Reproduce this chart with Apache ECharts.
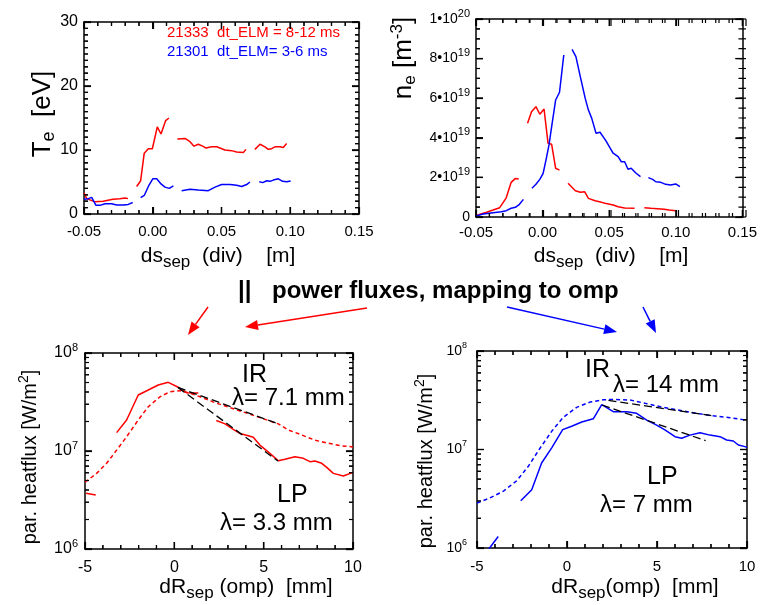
<!DOCTYPE html>
<html><head><meta charset="utf-8">
<script src="https://cdn.jsdelivr.net/npm/echarts@6/dist/echarts.min.js"></script>
<style>html,body{margin:0;padding:0;background:#fff}#c{width:760px;height:605px}</style>
</head><body><div id="c"></div>
<script>
// ---------------- data ----------------
// Panel 1: Te [eV] vs ds_sep [m]; each inner array is one unbroken segment
const teRed = [
  [[-0.05,3.3],[-0.048,2.4],[-0.042,1.9],[-0.036,2.0],[-0.029,2.3],[-0.024,2.4],[-0.020,2.5],[-0.018,2.4]],
  [[-0.0117,4.3],[-0.0088,5.2],[-0.0062,9.5],[-0.0032,10.2],[-0.0003,10.2],[0.0033,13.6],[0.006,12.5],[0.0094,14.6],[0.0118,15.0]],
  [[0.0179,11.7],[0.0235,11.8],[0.0271,11.3],[0.030,10.6],[0.0331,10.9],[0.0363,10.6],[0.0387,10.3],[0.0429,10.5],[0.0465,10.5],[0.0525,10.0],[0.0574,9.9],[0.061,9.7],[0.0659,9.6],[0.0678,10.1]],
  [[0.0743,10.1],[0.078,10.9],[0.0816,10.5],[0.084,10.1],[0.0865,10.2],[0.0889,10.5],[0.0925,10.5],[0.0949,10.4],[0.0974,11.0]]
];
const teBlue = [
  [[-0.05,2.3],[-0.0469,2.4],[-0.0444,2.6],[-0.0413,1.35],[-0.0384,1.35],[-0.0347,1.6],[-0.0299,1.6],[-0.0262,1.4],[-0.0214,1.4],[-0.0178,1.5],[-0.0146,1.8]],
  [[-0.0088,2.55],[-0.0062,2.9],[-0.0032,4.3],[0.0,5.5],[0.0029,5.5],[0.006,4.7],[0.0089,4.2],[0.012,4.0],[0.015,4.4]],
  [[0.021,3.65],[0.0271,3.85],[0.0331,3.75],[0.0404,3.65],[0.0453,4.2],[0.0501,4.6],[0.0562,4.6],[0.061,4.5],[0.0647,4.3],[0.0683,4.6],[0.0707,5.0]],
  [[0.0775,5.05],[0.080,4.9],[0.0829,5.2],[0.0853,5.1],[0.0877,5.3],[0.0913,5.5],[0.0945,5.1],[0.0974,5.05],[0.1003,5.15]]
];
// Panel 2: ne [1e19 m^-3] vs ds_sep [m]
const neRed = [
  [[-0.05,0.05],[-0.047,0.14],[-0.042,0.24],[-0.0372,0.35],[-0.0322,0.47],[-0.0273,0.97],[-0.0236,1.75],[-0.0204,1.95],[-0.0179,1.92]],
  [[-0.0113,4.73],[-0.0083,5.32],[-0.0050,5.57],[-0.0021,5.19],[0.0011,5.45],[0.0041,3.72],[0.0068,3.67],[0.0098,2.46],[0.0127,2.37]],
  [[0.0191,1.70],[0.0246,1.33],[0.0283,1.25],[0.0315,1.28],[0.0344,0.94],[0.0394,0.82],[0.0443,0.74],[0.0468,0.69],[0.053,0.61],[0.0567,0.52],[0.0616,0.45],[0.069,0.44]],
  [[0.0764,0.47],[0.0813,0.44],[0.0863,0.42],[0.0913,0.39],[0.0949,0.35],[0.0999,0.32]]
];
const neBlue = [
  [[-0.05,0.05],[-0.0446,0.15],[-0.0372,0.22],[-0.031,0.27],[-0.0273,0.32],[-0.0236,0.44],[-0.0204,0.49],[-0.0174,0.64],[-0.0144,0.89]],
  [[-0.008,1.45],[-0.0050,1.65],[-0.0021,1.90],[0.0004,2.2],[0.0028,2.96],[0.0048,3.64],[0.0068,4.56],[0.0098,5.91],[0.0127,6.30],[0.0159,8.18]],
  [[0.0221,8.47],[0.025,8.10],[0.0283,7.09],[0.032,5.99],[0.0344,5.40],[0.0369,4.98],[0.0401,4.23],[0.0431,4.28],[0.0463,3.97],[0.048,3.80],[0.0505,3.50],[0.053,3.22],[0.0567,3.05],[0.0591,2.79],[0.0616,2.79],[0.0641,2.41],[0.0665,2.46],[0.0702,2.21],[0.0735,2.04]],
  [[0.0794,1.99],[0.0826,1.90],[0.085,1.78],[0.0887,1.75],[0.0924,1.65],[0.0961,1.62],[0.0999,1.67],[0.1031,1.53]]
];
// Panel 3: parallel heat flux [W/m^2] vs dR_sep [mm], shot 21333
const lpRed = [
  [[-4.94,3.7e6],[-4.4,3.55e6]],
  [[-3.23,1.54e7],[-2.67,2.07e7],[-2.02,3.73e7],[-1.46,4.19e7],[-0.90,4.71e7],[-0.34,5.02e7],[0.22,4.47e7],[0.69,3.94e7],[1.34,3.9e7]],
  [[2.35,2.05e7],[2.84,1.89e7],[3.30,1.66e7],[3.67,1.51e7],[4.14,1.43e7],[4.42,1.38e7],[4.79,1.15e7],[5.35,9.46e6],[5.82,7.96e6],[6.19,8.22e6],[6.75,8.75e6],[7.22,8.42e6],[7.59,7.78e6],[7.87,7.9e6],[8.25,7.49e6],[8.53,6.81e6],[8.90,5.91e6],[9.46,5.56e6],[9.96,6.01e6]]
];
const irRed = [[-5,4.8e6],[-4.35,5.91e6],[-3.79,7.49e6],[-3.23,1.02e7],[-2.67,1.40e7],[-2.02,2.07e7],[-1.46,2.83e7],[-0.80,3.58e7],[-0.24,4.03e7],[0.32,4.13e7],[0.88,3.88e7],[1.44,3.58e7],[2.00,3.26e7],[2.28,3.11e7],[4.1,2.42e7],[5.82,1.89e7],[6.38,1.64e7],[7.12,1.46e7],[7.87,1.29e7],[8.62,1.20e7],[9.37,1.13e7],[10,1.1e7]];
const irFitRed = [[0.2,4.45e7],[5.8,1.9e7]];
const lpFitRed = [[0.2,4.45e7],[5.8,7.9e6]];
// Panel 4: parallel heat flux [W/m^2] vs dR_sep [mm], shot 21301
const lpBlue = [
  [[-4.45,9.2e5],[-3.82,1.31e6]],
  [[-2.57,3.02e6],[-1.96,3.91e6],[-1.41,7.29e6],[-0.85,1.04e7],[-0.24,1.59e7],[0.26,1.72e7],[0.82,1.90e7],[1.46,2.05e7],[1.93,2.85e7],[2.57,2.42e7],[3.32,2.42e7],[3.87,2.33e7],[4.43,1.99e7],[4.98,1.77e7],[5.44,1.58e7],[6.0,1.35e7],[6.37,1.30e7],[6.83,1.40e7],[7.39,1.48e7],[7.94,1.40e7],[8.5,1.35e7],[8.87,1.25e7],[9.24,1.22e7],[9.52,1.11e7],[9.89,1.07e7],[10,1.05e7]]
];
const irBlue = [[-5,2.86e6],[-4.28,3.22e6],[-3.54,3.77e6],[-2.79,4.82e6],[-2.15,6.75e6],[-1.5,1.03e7],[-0.85,1.53e7],[-0.21,2.12e7],[0.54,2.68e7],[1.28,3.03e7],[2.02,3.20e7],[2.6,3.22e7],[3.5,3.18e7],[5.35,2.68e7],[7.2,2.33e7],[8.13,2.20e7],[9.06,2.10e7],[10,1.98e7]];
const irFitBlue = [[2.3,3.15e7],[8.1,2.2e7]];
const lpFitBlue = [[1.95,2.83e7],[7.7,1.23e7]];
// tick values
const dsMajor = [-0.05,0,0.05,0.10,0.15];
const dsMinor = [-0.04,-0.03,-0.02,-0.01,0.01,0.02,0.03,0.04,0.06,0.07,0.08,0.09,0.11,0.12,0.13,0.14];
const teMajor = [0,10,20,30];
const teMinor = [1,2,3,4,5,6,7,8,9,11,12,13,14,15,16,17,18,19,21,22,23,24,25,26,27,28,29];
const neMajor = [0,2,4,6,8,10];
const neMinor = [0.5,1,1.5,2.5,3,3.5,4.5,5,5.5,6.5,7,7.5,8.5,9,9.5];
const drMajor = [-5,0,5,10];
const drMinor = [-4,-3,-2,-1,1,2,3,4,6,7,8,9];
const qMajor = [1e6,1e7,1e8];
const qMinor = [2e6,3e6,4e6,5e6,6e6,7e6,8e6,9e6,2e7,3e7,4e7,5e7,6e7,7e7,8e7,9e7];
// texts
const legendRed = '21333  dt_ELM = 8-12 ms';
const legendBlue = '21301  dt_ELM= 3-6 ms';

// ---------------- chart ----------------
const FONT = "'Liberation Sans', Arial, Helvetica, sans-serif";
const RED = '#ff0000', BLUE = '#0000ff';
const chart = echarts.init(document.getElementById('c'));

const grids = [
  {left:84, top:22, width:275, height:192},
  {left:476, top:19, width:270, height:198},
  {left:85, top:353, width:268, height:196},
  {left:477, top:351, width:270, height:197}
];
const ranges = [
  {x:[-0.05,0.15], y:[0,30], log:false},
  {x:[-0.05,0.15], y:[0,10], log:false},
  {x:[-5,10], y:[1e6,1e8], log:true},
  {x:[-5,10], y:[1e6,1e8], log:true}
];
function baseAxis(g, pos, showLabel, o) {
  return Object.assign({
    type:'value', gridIndex:g, position:pos,
    axisLine:{show:true, onZero:false, lineStyle:{color:'#000', width:1.5}},
    axisTick:{show:true, inside:true, length:7, lineStyle:{color:'#000', width:1.2}},
    minorTick:{show:false},
    splitLine:{show:false}, minorSplitLine:{show:false},
    axisLabel:{show:showLabel, color:'#000', fontFamily:FONT}
  }, o);
}
const fmt2 = v => v.toFixed(2);
const fmtInt = v => String(Math.round(v));
const fmtNe = v => { const r = Math.round(v); if (r === 0) return '0'; if (r >= 10) return '{a|1•10}{s|20}'; return '{a|' + r + '•10}{s|19}'; };
const fmtLog = v => '{a|10}{s|' + Math.round(Math.log10(v)) + '}';

const xAxes = [], yAxes = [];
[['bottom',true],['top',false]].forEach(([p,s]) => {
  const a = baseAxis(0,p,s,{min:-0.05,max:0.15,interval:0.05});
  Object.assign(a.axisLabel,{formatter:fmt2, fontSize:15, margin:10});
  xAxes.push(a);
});
[['left',true],['right',false]].forEach(([p,s]) => {
  const a = baseAxis(0,p,s,{min:0,max:30,interval:10});
  Object.assign(a.axisLabel,{formatter:fmtInt, fontSize:16, margin:6});
  yAxes.push(a);
});
[['bottom',true],['top',false]].forEach(([p,s]) => {
  const a = baseAxis(1,p,s,{min:-0.05,max:0.15,interval:0.05});
  Object.assign(a.axisLabel,{formatter:fmt2, fontSize:15, margin:8});
  xAxes.push(a);
});
[['left',true],['right',false]].forEach(([p,s]) => {
  const a = baseAxis(1,p,s,{min:0,max:10,interval:2});
  Object.assign(a.axisLabel,{formatter:fmtNe, fontSize:14, margin:6,
    rich:{a:{fontSize:14, fontFamily:FONT, color:'#000'}, s:{fontSize:11, fontFamily:FONT, color:'#000', padding:[0,0,11,0]}}});
  yAxes.push(a);
});
[2,3].forEach(g => {
  [['bottom',true],['top',false]].forEach(([p,s]) => {
    const a = baseAxis(g,p,s,{min:-5,max:10,interval:5});
    Object.assign(a.axisLabel,{formatter:fmtInt, fontSize:g===2?16:15, margin:11});
    xAxes.push(a);
  });
  [['left',true],['right',false]].forEach(([p,s]) => {
    const a = baseAxis(g,p,s,{type:'log', logBase:10, min:1e6, max:1e8});
    const fs = g===2?16:14;
    Object.assign(a.axisLabel,{formatter:fmtLog, fontSize:fs, margin:g===2?7:10,
      rich:{a:{fontSize:fs, fontFamily:FONT, color:'#000'}, s:{fontSize:fs-5, fontFamily:FONT, color:'#000', padding:[0,0,11,0]}}});
    yAxes.push(a);
  });
});

const series = [];
function addSegs(segs, p, color, type, width, noClip) {
  segs.forEach(seg => series.push({
    type:'line', xAxisIndex:2*p, yAxisIndex:2*p, data:seg,
    showSymbol:false, symbol:'none', silent:true, animation:false, clip:!noClip, z:3,
    lineStyle:{color:color, width:width||1.5, type:type||'solid'}
  }));
}
addSegs(teRed,0,RED); addSegs(teBlue,0,BLUE);
addSegs(neRed,1,RED); addSegs(neBlue,1,BLUE);
addSegs([irRed],2,RED,[4,3]); addSegs(lpRed,2,RED);
addSegs([irFitRed, lpFitRed],2,'#000',[8,4],1.3);
addSegs([irBlue],3,BLUE,[4,3]); addSegs(lpBlue,3,BLUE);
addSegs([irFitBlue, lpFitBlue],3,'#000',[8,4],1.3);

// tick marks on all four sides: each tick is a short two-point line in the panel's data space
const graphicTicks = [];
function ticks(p, xMaj, xMin, yMaj, yMin) {
  const r = ranges[p], g = grids[p];
  const [x0, x1] = r.x, [y0, y1] = r.y;
  const dx = len => len / g.width * (x1 - x0);
  const yUp = (y, len) => r.log ? y * Math.pow(10, len / g.height * Math.log10(y1 / y0)) : y + len / g.height * (y1 - y0);
  const yDown = (y, len) => r.log ? y / Math.pow(10, len / g.height * Math.log10(y1 / y0)) : y - len / g.height * (y1 - y0);
  const segs = [];
  const xs = (vals, len) => vals.forEach(v => {
    segs.push([[v, y0],[v, yUp(y0, len)]]);
    segs.push([[v, y1],[v, yDown(y1, len)]]);
    const px = g.left + (v - x0) / (x1 - x0) * g.width;
    graphicTicks.push({type:'line', silent:true, shape:{x1:px, y1:g.top+g.height, x2:px, y2:g.top+g.height-len}, style:{stroke:'#000', lineWidth:1.2}});
    graphicTicks.push({type:'line', silent:true, shape:{x1:px, y1:g.top, x2:px, y2:g.top+len}, style:{stroke:'#000', lineWidth:1.2}});
  });
  const ys = (vals, len) => vals.forEach(v => {
    segs.push([[x0, v],[x0 + dx(len), v]]);
    segs.push([[x1, v],[x1 - dx(len), v]]);
    const f = r.log ? Math.log10(v / y0) / Math.log10(y1 / y0) : (v - y0) / (y1 - y0);
    const py = g.top + g.height - f * g.height;
    graphicTicks.push({type:'line', silent:true, shape:{x1:g.left, y1:py, x2:g.left+len, y2:py}, style:{stroke:'#000', lineWidth:1.2}});
    graphicTicks.push({type:'line', silent:true, shape:{x1:g.left+g.width, y1:py, x2:g.left+g.width-len, y2:py}, style:{stroke:'#000', lineWidth:1.2}});
  });
  xs(xMaj, 7); xs(xMin, 4); ys(yMaj, 7); ys(yMin, 4);
  addSegs(segs, p, '#000', 'solid', 1.2, true);
}
ticks(0, dsMajor, dsMinor, teMajor, teMinor);
ticks(1, dsMajor, dsMinor, neMajor, neMinor);
ticks(2, drMajor, drMinor, qMajor, qMinor);
ticks(3, drMajor, drMinor, qMajor, qMinor);

function txt(x, y, text, size, fill, bold) {
  return {type:'text', x:x, y:y, silent:true, style:{
    text:text, fontSize:size, fontFamily:FONT, fill:fill||'#000', fontWeight:bold?'bold':'normal', align:'left', verticalAlign:'middle'}};
}
function richT(x, y, text, size, sub, rotate, subPad) {
  const rich = {
    m:{fontSize:size, fontFamily:FONT, fill:'#000'},
    s:{fontSize:sub, fontFamily:FONT, fill:'#000', padding:[subPad,0,0,0]},
    p:{fontSize:sub, fontFamily:FONT, fill:'#000', padding:[0,0,subPad,0]}
  };
  return {type:'text', x:x, y:y, rotation: rotate ? Math.PI/2 : 0, silent:true,
    style:{text:text, fontSize:size, fontFamily:FONT, fill:'#000', align:'center', verticalAlign:'middle', rich:rich}};
}
function arrow(x1, y1, x2, y2, color) {
  const ang = Math.atan2(y2-y1, x2-x1), L = 13, W = 5;
  const bx = x2 - L*Math.cos(ang), by = y2 - L*Math.sin(ang);
  const nx = -Math.sin(ang), ny = Math.cos(ang);
  return [
    {type:'line', silent:true, shape:{x1:x1, y1:y1, x2:bx, y2:by}, style:{stroke:color, lineWidth:1.5}},
    {type:'polygon', silent:true, shape:{points:[[x2,y2],[bx+W*nx,by+W*ny],[bx-W*nx,by-W*ny]]}, style:{fill:color}}
  ];
}
const graphic = [
  txt(167, 33, legendRed, 15, RED),
  txt(167, 52, legendBlue, 15, BLUE),
  richT(43, 114, '{m|T}{s|e}{m|  [eV]}', 26, 18, true, 12),
  richT(404, 58, '{m|n}{s|e}{m| [m}{p|-3}{m|]}', 26, 17, true, 13),
  richT(218, 256, '{m|ds}{s|sep}{m|  (div)    [m]}', 21, 17, false, 12),
  richT(611, 256, '{m|ds}{s|sep}{m|  (div)    [m]}', 21, 17, false, 12),
  richT(30, 457, '{m|par. heatflux [W/m}{p|2}{m|]}', 20, 14, true, 11),
  richT(426, 461, '{m|par. heatflux [W/m}{p|2}{m|]}', 20, 14, true, 11),
  richT(246, 587, '{m|dR}{s|sep}{m| (omp)  [mm]}', 21, 17, false, 12),
  richT(635, 587, '{m|dR}{s|sep}{m|(omp)  [mm]}', 21, 17, false, 12),
  txt(238, 291, '||', 24, '#000', true),
  txt(272, 291, 'power fluxes, mapping to omp', 24, '#000', true),
  txt(242, 375, 'IR', 25),
  txt(232, 398, 'λ= 7.1 mm', 24),
  txt(277, 495, 'LP', 25),
  txt(220, 523, 'λ= 3.3 mm', 24),
  txt(585, 370, 'IR', 25),
  txt(613, 385, 'λ= 14 mm', 24),
  txt(647, 477, 'LP', 25),
  txt(600, 505, 'λ= 7 mm', 24)
].concat(
  arrow(208,307,188,335,RED),
  arrow(367,308,245,327,RED),
  arrow(507,307,617,332,BLUE),
  arrow(643,307,656,333,BLUE),
  graphicTicks
);

chart.setOption({animation:false, grid:grids, xAxis:xAxes, yAxis:yAxes, series:series, graphic:graphic});
</script>
</body></html>
